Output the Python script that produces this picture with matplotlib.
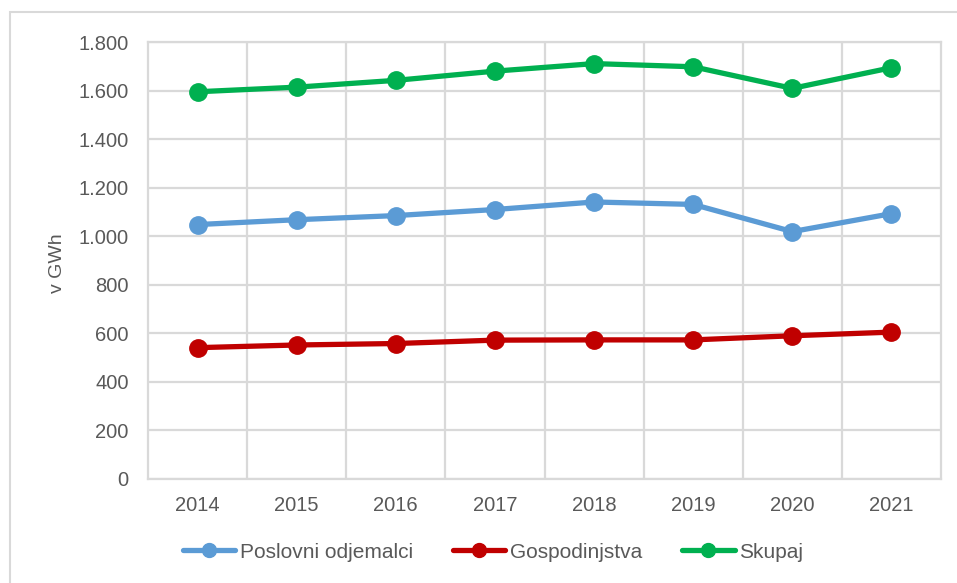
import matplotlib
matplotlib.use("Agg")
import matplotlib.pyplot as plt
from matplotlib.patches import Rectangle

plt.rcParams['font.family'] = ['Liberation Sans', 'DejaVu Sans']

years = ["2014", "2015", "2016", "2017", "2018", "2019", "2020", "2021"]
poslovni = [1048, 1068, 1085, 1110, 1141, 1131, 1019, 1093]
gospodinjstva = [541, 552, 558, 572, 573, 573, 590, 605]
skupaj = [1595, 1614, 1642, 1680, 1711, 1698, 1609, 1694]
yticks = [0, 200, 400, 600, 800, 1000, 1200, 1400, 1600, 1800]
ytick_labels = ["0", "200", "400", "600", "800", "1.000", "1.200", "1.400", "1.600", "1.800"]

W, H = 957, 583
fig = plt.figure(figsize=(W / 100, H / 100), dpi=100)
ax = fig.add_axes([148 / W, 1 - 479 / H, (941 - 148) / W, (479 - 42) / H])

grid_c = "#D9D9D9"
text_c = "#595959"

x = list(range(len(years)))
series = [
    (poslovni, "#5B9BD5", "Poslovni odjemalci"),
    (gospodinjstva, "#C00000", "Gospodinjstva"),
    (skupaj, "#00B050", "Skupaj"),
]
for vals, col, lab in series:
    ax.plot(x, vals, color=col, lw=3.8, marker="o", ms=12.5, label=lab,
            solid_capstyle="round", zorder=3)

ax.set_xlim(-0.5, len(years) - 0.5)
ax.set_ylim(0, 1800)
ax.set_yticks(yticks)
ax.set_yticklabels(ytick_labels)
ax.set_xticks(x)
ax.set_xticklabels(years)
ax.set_xticks([i + 0.5 for i in range(len(years) - 1)], minor=True)
ax.grid(axis="y", which="major", color=grid_c, lw=1.6)
ax.grid(axis="x", which="minor", color=grid_c, lw=1.6)
ax.grid(axis="x", which="major", visible=False)
ax.tick_params(axis="both", which="both", length=0, labelsize=14.5, colors=text_c)
ax.tick_params(axis="y", pad=14)
ax.tick_params(axis="x", pad=12)
for s in ax.spines.values():
    s.set_color(grid_c)
    s.set_linewidth(1.6)
ax.set_axisbelow(True)

fig.text(57 / W, 1 - 263 / H, "v GWh", rotation=90, ha="center", va="center",
         fontsize=14, color=text_c)

leg = fig.legend(loc="center", bbox_to_anchor=(493 / W, 1 - 552 / H), ncol=3,
                 frameon=False, fontsize=15, handlelength=2.5, handletextpad=0.2,
                 columnspacing=1.95, markerscale=0.8)
for t in leg.get_texts():
    t.set_color(text_c)

fig.patches.append(Rectangle((10 / W, -0.1), 1.2, (1 - 12 / H) + 0.1,
                             transform=fig.transFigure, fill=False,
                             edgecolor=grid_c, lw=1.5))

fig.savefig("out.png", dpi=100)
